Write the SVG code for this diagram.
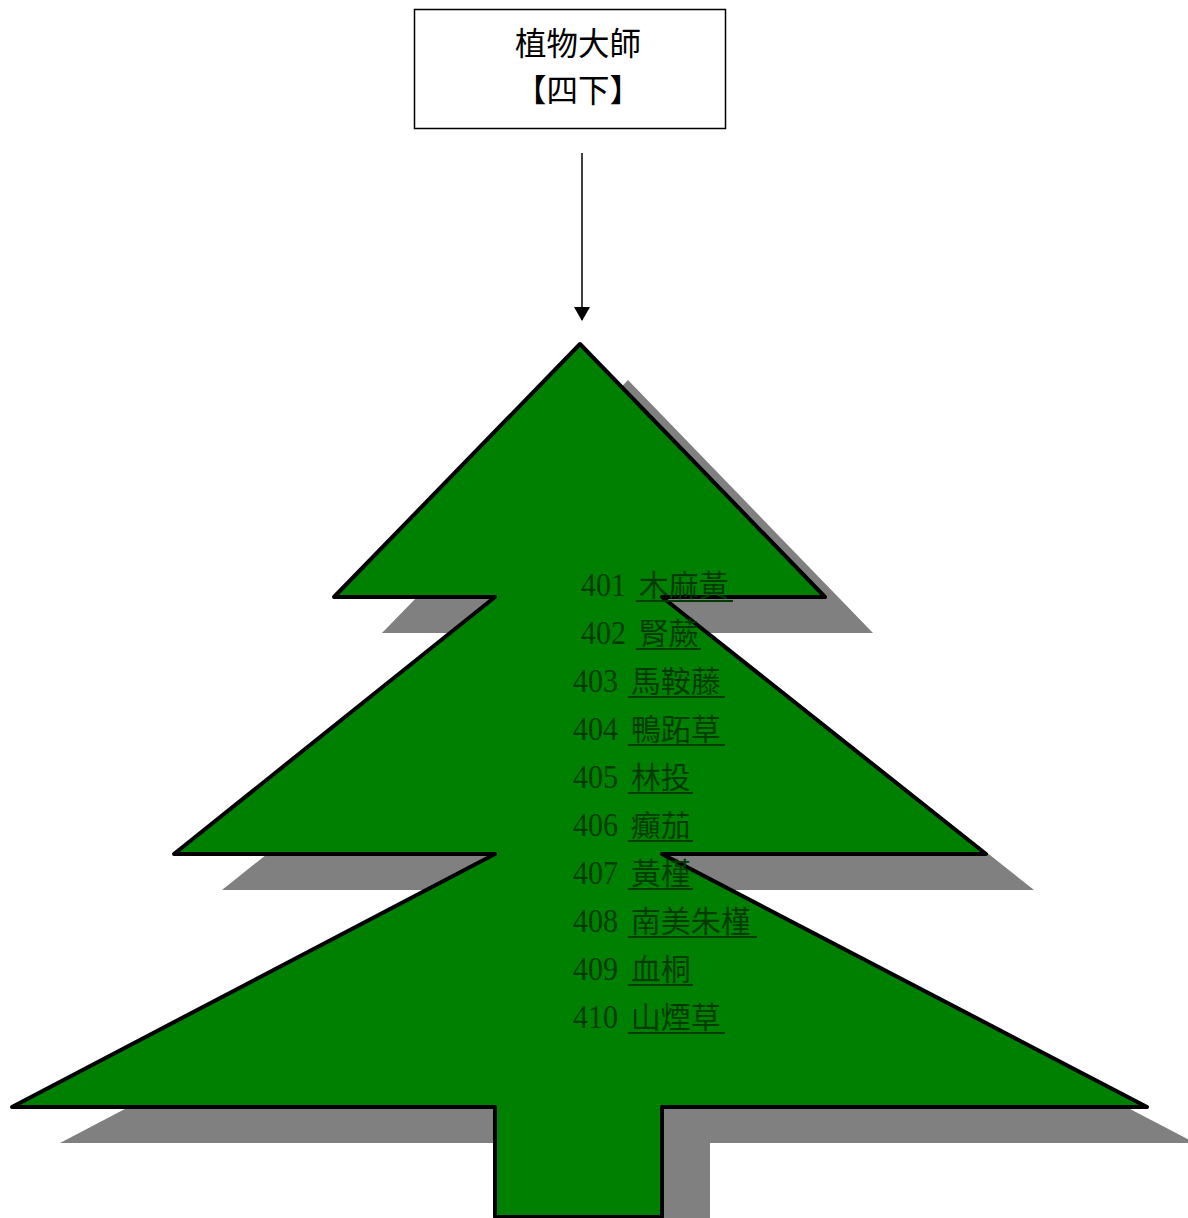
<svg xmlns="http://www.w3.org/2000/svg" width="1188" height="1218" viewBox="0 0 1188 1218">
<style>
.box{fill:#fff;stroke:#000;stroke-width:1.5}
.title{font-family:"Noto Sans CJK TC","Noto Sans CJK SC",sans-serif;font-size:31.5px;fill:#000;text-anchor:middle}
.tree{fill:#008000;stroke:#000;stroke-width:4;stroke-linejoin:round}
.shadow{fill:#808080}
.item{font-family:"Liberation Serif","Noto Sans CJK TC",serif;font-size:34px;fill:#003c00}
.cjk{font-family:"Noto Sans CJK TC","Noto Sans CJK SC",sans-serif;font-size:30px}
.ul{stroke:#003c00;stroke-width:2}
.conn{stroke:#000;stroke-width:1.5;fill:none}
</style>
<defs>
<marker id="ah" markerWidth="14" markerHeight="16" refX="13" refY="8" orient="auto" markerUnits="userSpaceOnUse">
<path d="M0,0 L14,8 L0,16 Z" fill="#000"/>
</marker>
<path id="treeShape" d="M580,344 L825,597 L662,597 L986,854 L662,854 L1147,1107 L662,1107 L662,1217 L495,1217 L495,1107 L12,1107 L495,854 L174,854 L495,597 L334,597 Z"/>
</defs>
<g id="title-node">
<rect class="box" x="414.5" y="9.5" width="311" height="119"/>
<text class="title" x="578" y="55">植物大師</text>
<text class="title" x="578" y="102">【四下】</text>
</g>
<g id="connectors">
<line class="conn" x1="582" y1="153" x2="582" y2="320" marker-end="url(#ah)"/>
</g>
<g id="tree-node">
<use href="#treeShape" class="shadow" transform="translate(48,36)"/>
<use href="#treeShape" class="tree"/>
<g id="items">
<text class="item" y="596"><tspan x="581" textLength="45" lengthAdjust="spacingAndGlyphs">401</tspan><tspan class="cjk" x="632"> 木麻黃</tspan></text>
<line class="ul" x1="636" y1="601" x2="733" y2="601"/>
<text class="item" y="644"><tspan x="581" textLength="45" lengthAdjust="spacingAndGlyphs">402</tspan><tspan class="cjk" x="632"> 腎蕨</tspan></text>
<line class="ul" x1="636" y1="649" x2="701" y2="649"/>
<text class="item" y="692"><tspan x="573" textLength="45" lengthAdjust="spacingAndGlyphs">403</tspan><tspan class="cjk" x="624"> 馬鞍藤</tspan></text>
<line class="ul" x1="628" y1="697" x2="725" y2="697"/>
<text class="item" y="740"><tspan x="573" textLength="45" lengthAdjust="spacingAndGlyphs">404</tspan><tspan class="cjk" x="624"> 鴨跖草</tspan></text>
<line class="ul" x1="628" y1="745" x2="725" y2="745"/>
<text class="item" y="788"><tspan x="573" textLength="45" lengthAdjust="spacingAndGlyphs">405</tspan><tspan class="cjk" x="624"> 林投</tspan></text>
<line class="ul" x1="628" y1="793" x2="693" y2="793"/>
<text class="item" y="836"><tspan x="573" textLength="45" lengthAdjust="spacingAndGlyphs">406</tspan><tspan class="cjk" x="624"> 癲茄</tspan></text>
<line class="ul" x1="628" y1="841" x2="693" y2="841"/>
<text class="item" y="884"><tspan x="573" textLength="45" lengthAdjust="spacingAndGlyphs">407</tspan><tspan class="cjk" x="624"> 黃槿</tspan></text>
<line class="ul" x1="628" y1="889" x2="693" y2="889"/>
<text class="item" y="932"><tspan x="573" textLength="45" lengthAdjust="spacingAndGlyphs">408</tspan><tspan class="cjk" x="624"> 南美朱槿</tspan></text>
<line class="ul" x1="628" y1="937" x2="757" y2="937"/>
<text class="item" y="980"><tspan x="573" textLength="45" lengthAdjust="spacingAndGlyphs">409</tspan><tspan class="cjk" x="624"> 血桐</tspan></text>
<line class="ul" x1="628" y1="985" x2="693" y2="985"/>
<text class="item" y="1028"><tspan x="573" textLength="45" lengthAdjust="spacingAndGlyphs">410</tspan><tspan class="cjk" x="624"> 山煙草</tspan></text>
<line class="ul" x1="628" y1="1033" x2="725" y2="1033"/>
</g>
</g>
</svg>
